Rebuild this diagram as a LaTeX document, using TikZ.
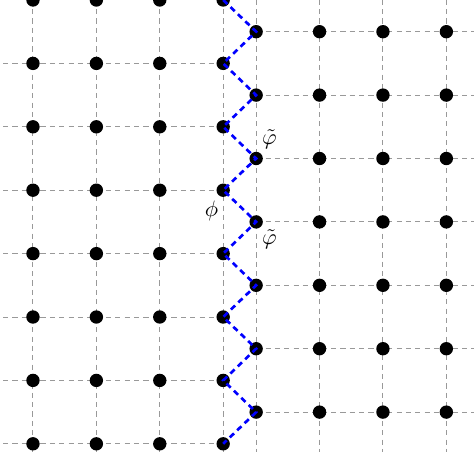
\documentclass[tikz,border=0pt]{standalone}
\usetikzlibrary{calc}
\begin{document}
\begin{tikzpicture}
\tikzset{
  gridline/.style={draw=gray!80, line width=0.45pt, dash pattern=on 2.3pt off 1.9pt},
  dot/.style={circle, fill=black, inner sep=0pt, minimum size=6pt},
  zig/.style={draw=blue, line width=1.2pt, dash pattern=on 2.6pt off 2pt},
  lbl/.style={inner sep=0pt, font=\normalsize}
}
\useasboundingbox (0,-7.129) rectangle (7.476,0);
\clip (0,-7.129) rectangle (7.476,0);
% grid lines
\foreach \i in {0,...,3} {
  \draw[gridline] (0.52+\i,0.3) -- (0.52+\i,-7.4);
  \draw[gridline] (4.04+\i,0.3) -- (4.04+\i,-7.4);
}
\foreach \j in {0,...,7} \draw[gridline] (-0.1,-\j) -- (3.52,-\j);
\foreach \j in {0,...,6} \draw[gridline] (4.04,-\j-0.5) -- (7.6,-\j-0.5);
% dots
\foreach \i in {0,...,3} {
  \foreach \j in {0,...,7} \node[dot] (L\i-\j) at (0.52+\i,-\j) {};
  \foreach \j in {0,...,6} \node[dot] (R\i-\j) at (4.04+\i,-\j-0.5) {};
}
% zigzag
\draw[zig] (L3-0.center) -- (R0-0.center) -- (L3-1.center) -- (R0-1.center)
  -- (L3-2.center) -- (R0-2.center) -- (L3-3.center) -- (R0-3.center)
  -- (L3-4.center) -- (R0-4.center) -- (L3-5.center) -- (R0-5.center)
  -- (L3-6.center) -- (R0-6.center) -- (L3-7.center);
% labels
\node[lbl] (t1) at ($(R0-2)+(0.21,0.30)$) {$\tilde{\varphi}$};
\node[lbl] (p1) at ($(L3-3)+(-0.184,-0.33)$) {$\phi$};
\node[lbl] (t2) at ($(R0-3)+(0.21,-0.28)$) {$\tilde{\varphi}$};
\end{tikzpicture}
\end{document}
